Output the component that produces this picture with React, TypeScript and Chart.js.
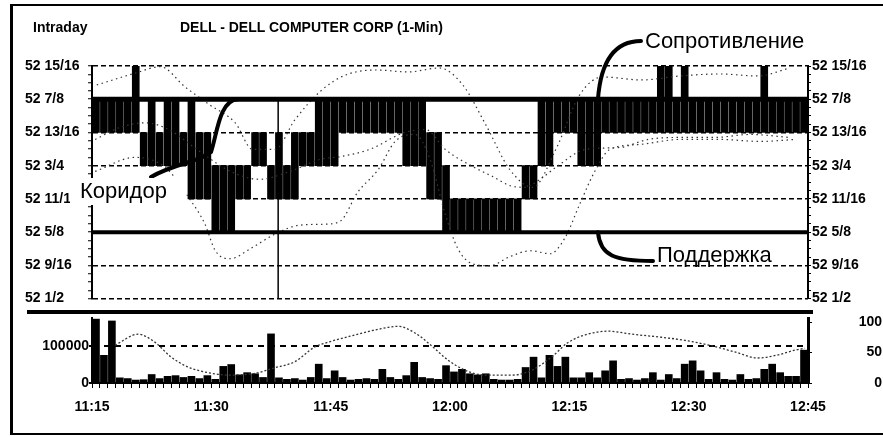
import React, { useEffect, useRef } from 'react';
import { Chart, registerables } from 'chart.js';

Chart.register(...registerables);

const FONT = "'Liberation Sans', Arial, Helvetica, sans-serif";

// ---- price panel: 1-minute bars, levels in sixteenths above $52 ----
const barLows = [
  13, 13, 13, 13, 13, 13, 12, 12, 12, 12, 12, 12, 11, 11, 11, 10, 10, 10, 11, 11,
  12, 12, 11, 11, 11, 11, 12, 12, 12, 12, 12, 13, 13, 13, 13, 13, 13, 13, 13, 12,
  12, 12, 11, 11, 10, 10, 10, 10, 10, 10, 10, 10, 10, 10, 11, 11, 12, 12, 13, 13,
  13, 12, 12, 12, 13, 13, 13, 13, 13, 13, 13, 13, 13, 13, 13, 13, 13, 13, 13, 13,
  13, 13, 13, 13, 13, 13, 13, 13, 13, 13,
];
const barHighs = [
  14, 14, 14, 14, 14, 15, 13, 14, 13, 14, 14, 13, 14, 13, 13, 12, 12, 12, 12, 12,
  13, 13, 12, 13, 12, 13, 13, 13, 14, 14, 14, 14, 14, 14, 14, 14, 14, 14, 14, 14,
  14, 14, 13, 13, 12, 11, 11, 11, 11, 11, 11, 11, 11, 11, 12, 12, 14, 14, 14, 14,
  14, 14, 14, 14, 14, 14, 14, 14, 14, 14, 14, 15, 15, 14, 15, 14, 14, 14, 14, 14,
  14, 14, 14, 14, 15, 14, 14, 14, 14, 14,
];

const resistanceLevel = 14; // 52 7/8
const supportLevel = 10; // 52 5/8
const cursorMinute = 23.4;

const upperMinutes = [0.6, 5.5, 8.6, 11.7, 14.8, 18, 20.2, 23, 25.5, 28.9, 31.9, 35.8, 39.7, 43.7, 46.6, 49.5, 52.5, 55.4, 58.3, 61.3, 64.2, 69.1, 73.9, 78.9, 83.7, 87.7];
const upperLevels = [14.43, 14.79, 14.98, 14.37, 13.83, 13.29, 12.49, 12.49, 13.38, 14.28, 14.73, 14.88, 14.82, 14.94, 14.43, 13.23, 11.89, 11.35, 12.49, 14.13, 14.67, 14.58, 14.7, 14.76, 14.7, 14.94];

const middleMinutes = [0.4, 3.5, 6.7, 9.6, 13.7, 17.4, 21.1, 24.9, 28.7, 31.4, 34.9, 39.3, 41.9, 44.4, 47.8, 50.3, 52.8, 54.4, 56.3, 58.8, 62, 66.4, 69.9, 73.9, 78.3, 82.7, 87.7];
const middleLevels = [12.79, 13.15, 13.29, 13.09, 12.4, 11.83, 11.59, 11.83, 12.19, 12.28, 12.49, 13.0, 13.09, 12.49, 11.98, 11.68, 11.38, 11.35, 11.59, 12.04, 12.49, 12.55, 12.79, 12.85, 12.85, 12.94, 12.85];

const lowerMinutes = [0.4, 5.4, 9.2, 12.3, 14.2, 15.5, 17.4, 19.9, 23, 26.1, 29.3, 31.2, 33.4, 36, 38.1, 40.6, 42.5, 44.4, 46, 47.8, 50, 52.5, 55.1, 57.6, 59.5, 61.3, 63.2, 65.1, 68.9, 73.9, 78.9, 84, 88.4];
const lowerLevels = [11.83, 12.25, 11.95, 10.99, 10.24, 9.44, 9.2, 9.5, 9.94, 10.21, 10.24, 10.33, 11.2, 11.89, 12.73, 12.94, 12.19, 10.54, 9.5, 9.05, 8.99, 9.26, 9.44, 9.35, 9.85, 10.84, 11.83, 12.49, 12.64, 12.79, 12.79, 12.73, 12.79];

const priceTickLabels = ['52 1/2', '52 9/16', '52 5/8', '52 11/16', '52 3/4', '52 13/16', '52 7/8', '52 15/16'];

// ---- volume panel ----
const volumes = [
  173000, 75000, 168000, 14000, 12000, 8000, 9000, 23000, 12000, 18000,
  20000, 15000, 18000, 12000, 20000, 10000, 45000, 50000, 22000, 28000,
  25000, 15000, 133000, 14000, 10000, 12000, 8000, 15000, 51000, 12000,
  33000, 15000, 8000, 10000, 12000, 10000, 37000, 15000, 10000, 20000,
  56000, 15000, 12000, 10000, 47000, 30000, 37000, 25000, 22000, 25000,
  10000, 8000, 8000, 10000, 42000, 70000, 14000, 75000, 45000, 70000,
  14000, 14000, 28000, 14000, 33000, 60000, 10000, 12000, 8000, 12000,
  28000, 8000, 23000, 12000, 51000, 60000, 33000, 10000, 28000, 10000,
  8000, 23000, 10000, 12000, 37000, 51000, 28000, 18000, 18000, 89000,
];
const oscMinutes = [2.9, 5.8, 7.9, 9.9, 12.1, 14.2, 17.1, 20.5, 23, 25.5, 28, 29.7, 33.1, 35.6, 38.5, 40.6, 42.6, 44.7, 46.9, 49.4, 52.8, 55.3, 57.8, 59.8, 62, 64.9, 67.9, 71.6, 74.5, 77.9, 80.8, 83.7, 86.2, 88.4, 89.6];
const oscValues = [62, 80, 67, 43, 26, 18, 13, 16, 25, 35, 59, 67, 79, 87, 93, 82, 62, 38, 21, 13, 13, 21, 43, 66, 79, 85, 80, 75, 70, 61, 51, 41, 46, 54, 57];

const volumeTicks = [0, 100000];
const volumeTickLabels = ['0', '100000'];
const oscTicks = [0, 50, 100];
const oscTickLabels = ['0', '50', '100'];
const timeLabels = ['11:15', '11:30', '11:45', '12:00', '12:15', '12:30', '12:45'];

// annotation arrow tips (minute, level in sixteenths)
const resistanceArrowTip = [63.6, resistanceLevel];
const corridorArrowTip = [18.35, resistanceLevel];
const supportArrowTip = [63.6, supportLevel];

const toPrice = (s: number) => 52 + s / 16;
const tickFont = { family: FONT, size: 14, weight: 'bold' as const };

export default function App() {
  const c1 = useRef<HTMLCanvasElement>(null);
  const c2 = useRef<HTMLCanvasElement>(null);

  useEffect(() => {
    const priceTicks = (s: any) => {
      s.ticks = Array.from({ length: 29 }, (_, k) => ({ value: 52.5 + k / 64 }));
    };
    const priceLabel = (_v: any, idx: number) => (idx % 4 === 0 ? priceTickLabels[idx / 4] : '');
    const dotted = (mins: number[], lv: number[]) => ({
      type: 'line' as const,
      data: mins.map((m, i) => ({ x: m, y: toPrice(lv[i]) })),
      borderColor: '#333',
      borderWidth: 1.2,
      borderDash: [1.5, 3.5],
      pointRadius: 0,
      cubicInterpolationMode: 'monotone' as const,
      order: 2,
      yAxisID: 'y',
    });

    const arrowPlugin = {
      id: 'arrows',
      afterDatasetsDraw(chart: any) {
        const { ctx, scales } = chart;
        const x = scales.x;
        const y = scales.y;
        const px = (t: number[]) => [x.getPixelForValue(t[0]), y.getPixelForValue(toPrice(t[1]))];
        ctx.save();
        ctx.strokeStyle = '#000';
        ctx.lineWidth = 4;
        ctx.lineCap = 'round';
        const [rx, ry] = px(resistanceArrowTip);
        ctx.beginPath();
        ctx.moveTo(641, 41);
        ctx.bezierCurveTo(617, 41, 601, 58, rx, ry);
        ctx.stroke();
        const [kx, ky] = px(corridorArrowTip);
        ctx.beginPath();
        ctx.moveTo(151, 177);
        ctx.bezierCurveTo(175, 163, 200, 162, 211, 152);
        ctx.bezierCurveTo(217, 135, 219, 100, kx, ky);
        ctx.stroke();
        const [sx, sy] = px(supportArrowTip);
        ctx.beginPath();
        ctx.moveTo(653, 261);
        ctx.bezierCurveTo(615, 261, 600, 256, sx, sy);
        ctx.stroke();
        ctx.restore();
      },
    };

    const ch1 = new Chart(c1.current!, {
      type: 'bar',
      data: {
        datasets: [
          {
            type: 'bar',
            data: barLows.map((lo, i) => ({ x: i + 0.5, y: [toPrice(lo), toPrice(barHighs[i])] })) as any,
            backgroundColor: '#000',
            barThickness: 7,
            order: 3,
            yAxisID: 'y',
          },
          dotted(upperMinutes, upperLevels),
          dotted(middleMinutes, middleLevels),
          dotted(lowerMinutes, lowerLevels),
          {
            type: 'line',
            data: [{ x: 0, y: toPrice(resistanceLevel) }, { x: 90, y: toPrice(resistanceLevel) }],
            borderColor: '#000', borderWidth: 5, pointRadius: 0, order: 1, yAxisID: 'y',
          },
          {
            type: 'line',
            data: [{ x: 0, y: toPrice(supportLevel) }, { x: 90, y: toPrice(supportLevel) }],
            borderColor: '#000', borderWidth: 4, pointRadius: 0, order: 1, yAxisID: 'y',
          },
          {
            type: 'line',
            data: [{ x: cursorMinute, y: toPrice(8) }, { x: cursorMinute, y: toPrice(resistanceLevel) }],
            borderColor: '#000', borderWidth: 1.5, pointRadius: 0, order: 1, yAxisID: 'y',
          },
        ] as any,
      },
      options: {
        responsive: false,
        animation: false,
        devicePixelRatio: 1,
        layout: { padding: { left: 25, right: 0, top: 66, bottom: 8 } },
        plugins: { legend: { display: false }, tooltip: { enabled: false } },
        scales: {
          x: { type: 'linear', min: 0, max: 90, display: false, offset: false, grid: { offset: false } },
          y: {
            type: 'linear', position: 'left', min: 52.5, max: 52.9375,
            afterBuildTicks: priceTicks,
            afterFit: (s: any) => { s.width = 67; },
            ticks: { autoSkip: false, crossAlign: 'far', padding: 1, color: '#000', font: tickFont, callback: priceLabel },
            grid: {
              color: (c: any) => (c.index % 4 === 0 ? '#000' : 'rgba(0,0,0,0)'),
              lineWidth: 1.5, drawTicks: true, tickLength: 4, tickColor: '#000', tickWidth: 1,
            },
            border: { display: true, color: '#000', width: 2, dash: [5, 3] },
          },
          y2: {
            type: 'linear', position: 'right', min: 52.5, max: 52.9375,
            afterBuildTicks: priceTicks,
            afterFit: (s: any) => { s.width = 75; },
            ticks: { autoSkip: false, padding: 1, color: '#000', font: tickFont, callback: priceLabel },
            grid: { drawOnChartArea: false, drawTicks: true, tickLength: 3, color: '#000', tickColor: '#000' },
            border: { display: true, color: '#000', width: 2 },
          },
        },
      } as any,
      plugins: [arrowPlugin],
    });

    const ch2 = new Chart(c2.current!, {
      type: 'bar',
      data: {
        datasets: [
          {
            type: 'line',
            data: oscMinutes.map((m, i) => ({ x: m, y: oscValues[i] })),
            borderColor: '#333', borderWidth: 1.3, borderDash: [2, 2], pointRadius: 0,
            cubicInterpolationMode: 'monotone', yAxisID: 'yo', order: 1,
          },
          {
            type: 'bar',
            data: volumes.map((v, i) => ({ x: i + 0.5, y: v })),
            backgroundColor: '#000', barThickness: 7, yAxisID: 'yv', order: 2,
          },
        ] as any,
      },
      options: {
        responsive: false,
        animation: false,
        devicePixelRatio: 1,
        layout: { padding: { left: 0, right: 1, top: 10, bottom: 0 } },
        plugins: { legend: { display: false }, tooltip: { enabled: false } },
        scales: {
          x: {
            type: 'linear', min: 0, max: 90, offset: false,
            afterBuildTicks: (s: any) => { s.ticks = Array.from({ length: 91 }, (_, k) => ({ value: k })); },
            afterFit: (s: any) => { s.height = 50; },
            ticks: {
              autoSkip: false, maxRotation: 0, padding: 11, color: '#000', font: tickFont,
              callback: (v: any) => (v % 15 === 0 ? timeLabels[v / 15] : ''),
            },
            grid: { offset: false, drawOnChartArea: false, drawTicks: true, tickLength: 5, color: '#000', tickColor: '#000' },
            border: { display: true, color: '#000', width: 2 },
          },
          yv: {
            type: 'linear', position: 'left', min: 0, max: 176000,
            afterBuildTicks: (s: any) => { s.ticks = volumeTicks.map((value) => ({ value })); },
            afterFit: (s: any) => { s.width = 92; },
            ticks: { autoSkip: false, padding: 0, color: '#000', font: tickFont, callback: (_v: any, i: number) => volumeTickLabels[i] },
            grid: {
              color: (c: any) => (c.tick && c.tick.value === 100000 ? '#000' : 'rgba(0,0,0,0)'),
              lineWidth: 2, drawTicks: true, tickLength: 3, tickColor: '#000',
            },
            border: { display: true, color: '#000', width: 2, dash: [6, 5] },
          },
          yo: {
            type: 'linear', position: 'right', min: 0, max: 106.6,
            afterBuildTicks: (s: any) => { s.ticks = oscTicks.map((value) => ({ value })); },
            afterFit: (s: any) => { s.width = 74; },
            ticks: { autoSkip: false, crossAlign: 'far', padding: 0, color: '#000', font: tickFont, callback: (_v: any, i: number) => oscTickLabels[i] },
            grid: { drawOnChartArea: false, drawTicks: true, tickLength: 4, color: '#000', tickColor: '#000' },
            border: { display: true, color: '#000', width: 3 },
          },
        },
      } as any,
    });

    return () => {
      ch1.destroy();
      ch2.destroy();
    };
  }, []);

  const abs = (o: any) => ({ position: 'absolute' as const, ...o });
  return (
    <div style={abs({ left: 0, top: 0, width: 883, height: 437, overflow: 'hidden', background: '#fff', fontFamily: FONT, color: '#000' })}>
      <canvas ref={c1} width={883} height={308} style={abs({ left: 0, top: 0 })} />
      <canvas ref={c2} width={883} height={125} style={abs({ left: 0, top: 308 })} />
      <div style={abs({ left: 10, top: 4, width: 900, height: 431, boxSizing: 'border-box', borderTop: '2px solid #000', borderLeft: '3px solid #000', borderBottom: '2px solid #000' })} />
      <div style={abs({ left: 27, top: 310, width: 786, height: 4, background: '#000' })} />
      <div style={abs({ left: 33, top: 20, fontSize: 14, fontWeight: 'bold', lineHeight: 1, whiteSpace: 'nowrap' })}>Intraday</div>
      <div style={abs({ left: 180, top: 20, fontSize: 14, fontWeight: 'bold', lineHeight: 1, whiteSpace: 'nowrap' })}>DELL - DELL COMPUTER CORP (1-Min)</div>
      <div style={abs({ left: 645, top: 30, fontSize: 22, lineHeight: 1, whiteSpace: 'nowrap' })}>Сопротивление</div>
      <div style={abs({ left: 70, top: 178, width: 116, height: 27, background: '#fff' })} />
      <div style={abs({ left: 80, top: 180, fontSize: 22, lineHeight: 1, whiteSpace: 'nowrap' })}>Коридор</div>
      <div style={abs({ left: 657, top: 244, fontSize: 22, lineHeight: 1, whiteSpace: 'nowrap' })}>Поддержка</div>
    </div>
  );
}
